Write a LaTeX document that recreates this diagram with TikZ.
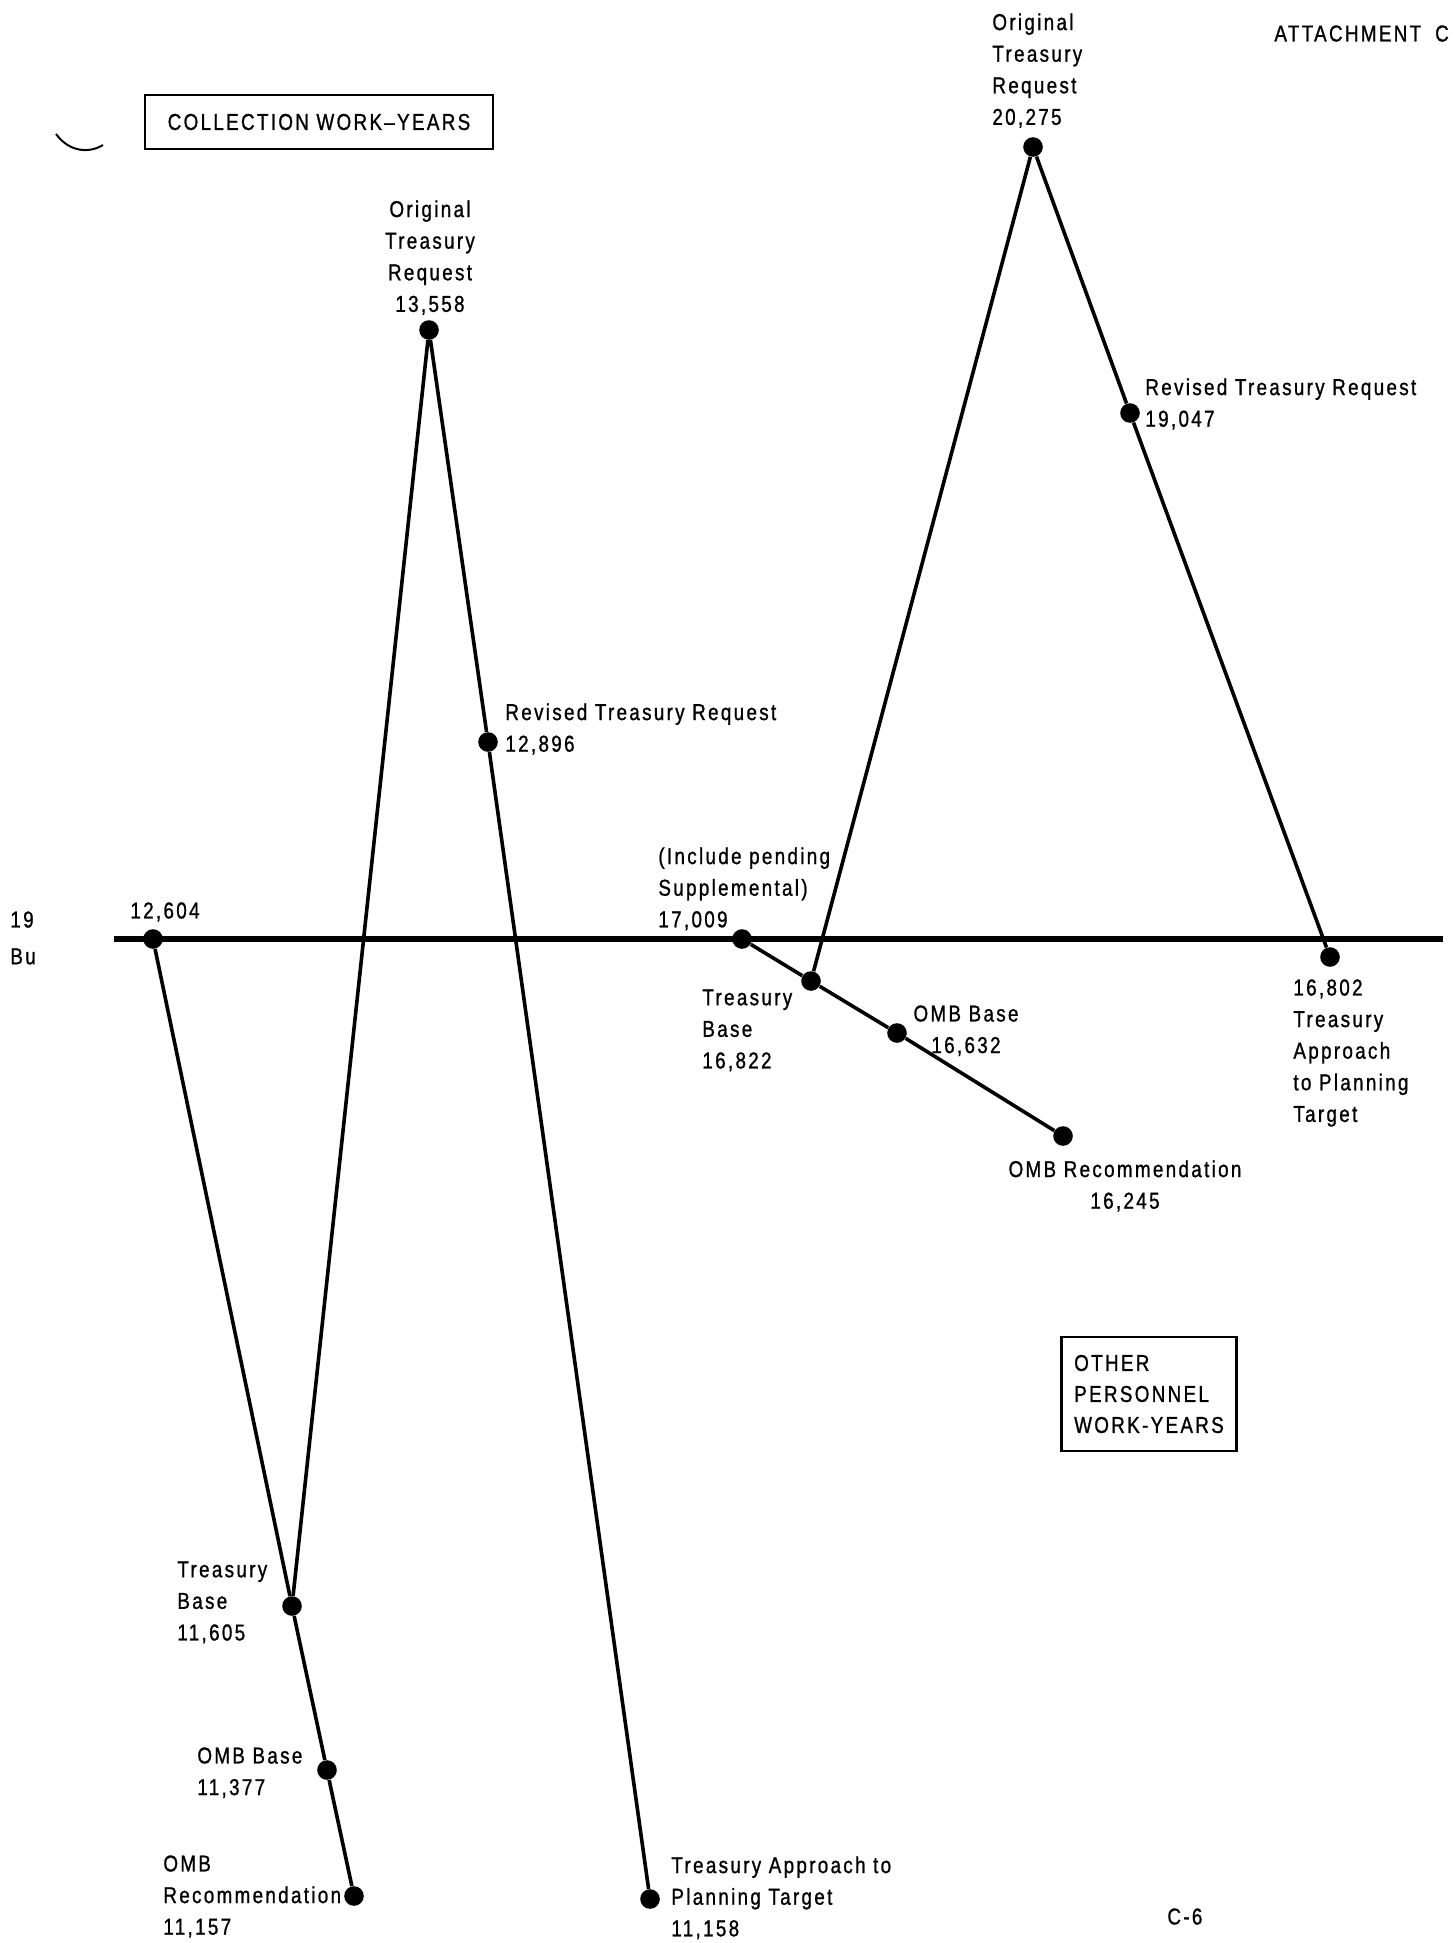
\documentclass[tikz,border=0pt]{standalone}
\usepackage{fontspec}
\setmainfont{Liberation Sans}[FakeStretch=0.82,LetterSpace=10,FakeBold=1]
\begin{document}
\begin{tikzpicture}[x=0.5pt,y=-0.5pt,
  dot/.style={circle,fill=black,inner sep=0pt,minimum size=9.8pt},
  conn/.style={line width=1.8pt,line join=round},
  axisline/.style={line width=3.2pt},
  lbl/.style={inner sep=0pt,align=left,anchor=north west,font=\fontsize{11.5}{15.8}\selectfont},
  clbl/.style={lbl,align=center,anchor=north},
  titlebox/.style={draw,line width=1.4pt,inner sep=0pt,font=\fontsize{11.5}{15.5}\selectfont}]
\useasboundingbox (0,0) rectangle (1453,1943);

% base line
\coordinate (hl1) at (114,939);
\coordinate (hl2) at (1443,939);
\draw[axisline] (hl1) -- (hl2);

% collection work-years (left)
\node[dot] (a0) at (153,939) {};
\node[dot] (tb1) at (292,1606) {};
\node[dot] (ob1) at (327,1770) {};
\node[dot] (or1) at (354,1896) {};
\node[dot] (otr1) at (429,330) {};
\node[dot] (rev1) at (488,742) {};
\node[dot] (tap1) at (650,1899) {};

\draw[conn] (a0) -- (tb1) -- (ob1) -- (or1);
\draw[conn] (tb1) -- (otr1) -- (rev1) -- (tap1);

% other personnel work-years (right)
\node[dot] (s17) at (742,939) {};
\node[dot] (tb2) at (811,981) {};
\node[dot] (ob2) at (897,1033) {};
\node[dot] (or2) at (1063,1136) {};
\node[dot] (otr2) at (1033,147) {};
\node[dot] (rev2) at (1130,413) {};
\node[dot] (tap2) at (1330,957) {};

\draw[conn] (s17) -- (tb2) -- (ob2) -- (or2);
\draw[conn] (tb2) -- (otr2) -- (rev2) -- (tap2);

% boxes
\node[titlebox,minimum width=174pt,minimum height=27pt] (cbox) at (319,122) {COLLECTION WORK–YEARS};
\node[titlebox,align=left,inner xsep=6.5pt,minimum height=57pt] (obox) at (1149,1394) {OTHER\\PERSONNEL\\WORK-YEARS};

% labels left
\node[clbl] (lotr1) at (430,200) {Original\\Treasury\\Request\\13,558};
\node[lbl] (lrev1) at (505,703) {Revised Treasury Request\\12,896};
\node[lbl] (la0) at (130,902) {12,604};
\node[lbl] (ltb1) at (177,1561) {Treasury\\Base\\11,605};
\node[lbl] (lob1) at (197,1747) {OMB Base\\11,377};
\node[lbl] (lor1) at (163,1855) {OMB\\Recommendation\\11,157};
\node[lbl] (ltap1) at (671,1856) {Treasury Approach to\\Planning Target\\11,158};

% labels right
\node[lbl] (ls17) at (658,847) {(Include pending\\Supplemental)\\17,009};
\node[lbl] (ltb2) at (702,989) {Treasury\\Base\\16,822};
\node[clbl] (lob2) at (966,1005) {OMB Base\\16,632};
\node[clbl] (lor2) at (1125,1160) {OMB Recommendation\\16,245};
\node[lbl] (ltap2) at (1293,979) {16,802\\Treasury\\Approach\\to Planning\\Target};
\node[lbl] (lotr2) at (992,13) {Original\\Treasury\\Request\\20,275};
\node[lbl] (lrev2) at (1145,378) {Revised Treasury Request\\19,047};

% page marks
\node[lbl] (cnum) at (1167,1908) {C-6};
\node[lbl] (att) at (1274,25) {ATTACHMENT\hspace{7pt}C};
\node[lbl] (y19) at (10,911) {19};
\node[lbl] (bu) at (10,948) {Bu};
\draw[line width=1pt] (56,134) .. controls (70,153) and (90,153) .. (103,145);
\end{tikzpicture}
\end{document}
